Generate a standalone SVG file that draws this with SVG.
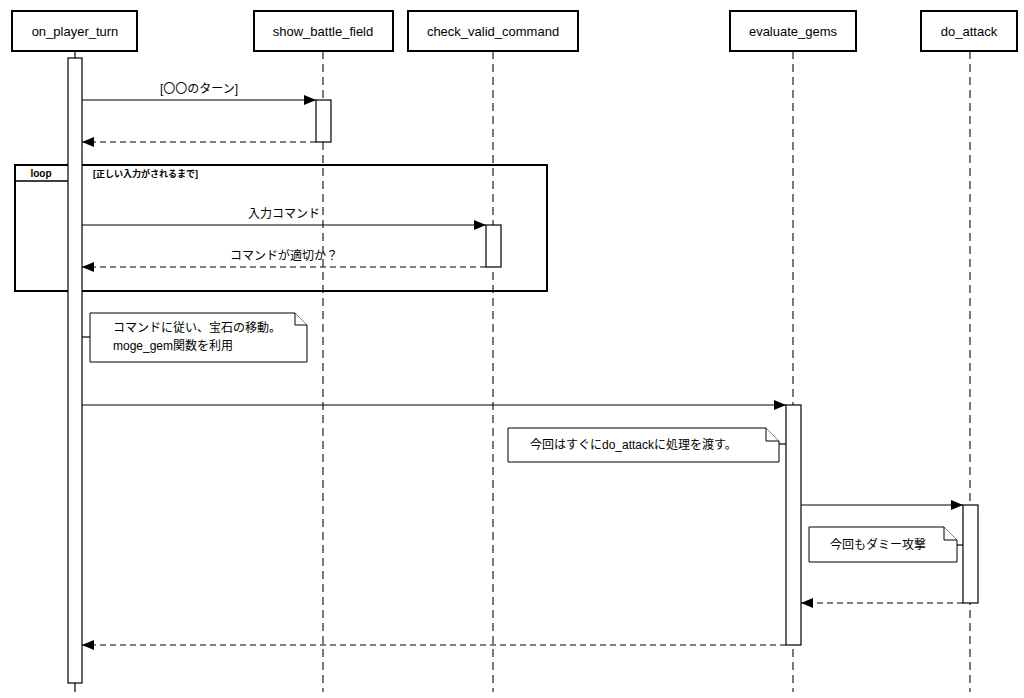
<svg xmlns="http://www.w3.org/2000/svg" width="1024" height="698" viewBox="0 0 1024 698">
<style>
text{font-family:"Liberation Sans","Noto Sans CJK JP",sans-serif;font-size:12px;fill:#000}
.ht{font-size:13px}
.lb{font-size:9px;font-weight:bold}
.hd{fill:#fff;stroke:#000;stroke-width:2}
.ll{stroke:#333;stroke-width:1.3;stroke-dasharray:8,5;fill:none}
.act{fill:#fff;stroke:#000;stroke-width:1.2}
.m{stroke:#000;stroke-width:1.2;fill:none}
.r{stroke:#000;stroke-width:1.2;fill:none;stroke-dasharray:6,4}
.note{fill:#fff;stroke:#000;stroke-width:1}
</style>
<defs><marker id="a" markerWidth="12" markerHeight="10" refX="12" refY="5" orient="auto" markerUnits="userSpaceOnUse"><path d="M0,0L12,5L0,10z" fill="#000"/></marker></defs>
<rect width="1024" height="698" fill="#fff"/>
<g id="lifelines">
<line x1="75" y1="51" x2="75" y2="692" class="m"/>
<line x1="323" y1="51" x2="323" y2="692" class="ll"/>
<line x1="493" y1="51" x2="493" y2="692" class="ll"/>
<line x1="793" y1="51" x2="793" y2="692" class="ll"/>
<line x1="970" y1="51" x2="970" y2="692" class="ll"/>
</g>
<g id="on_player_turn"><rect class="hd" x="12" y="11" width="125" height="40"/><text class="ht" x="75" y="36" text-anchor="middle">on_player_turn</text></g>
<g id="show_battle_field"><rect class="hd" x="254" y="11" width="139" height="40"/><text class="ht" x="323" y="36" text-anchor="middle">show_battle_field</text></g>
<g id="check_valid_command"><rect class="hd" x="408" y="11" width="170" height="40"/><text class="ht" x="493" y="36" text-anchor="middle">check_valid_command</text></g>
<g id="evaluate_gems"><rect class="hd" x="730" y="11" width="126" height="40"/><text class="ht" x="793" y="36" text-anchor="middle">evaluate_gems</text></g>
<g id="do_attack"><rect class="hd" x="921" y="11" width="96" height="40"/><text class="ht" x="969" y="36" text-anchor="middle">do_attack</text></g>
<g id="loop">
<rect x="15" y="165" width="532" height="126" fill="none" stroke="#000" stroke-width="2"/>
<path d="M15,181H70L77,174V165" fill="#fff" stroke="#000" stroke-width="1.5"/>
<text class="lb" x="41" y="177" text-anchor="middle" style="font-size:10px">loop</text>
<text class="lb" x="93" y="177">[正しい入力がされるまで]</text>
</g>
<g id="activations">
<rect class="act" x="68" y="58" width="14" height="625"/>
<rect class="act" x="316" y="100" width="15" height="42"/>
<rect class="act" x="486" y="225" width="15" height="42"/>
<rect class="act" x="786" y="405" width="15" height="240"/>
<rect class="act" x="963" y="505" width="15" height="98"/>
</g>
<g id="connectors">
<line x1="82" y1="100" x2="316" y2="100" class="m" marker-end="url(#a)"/>
<text x="199" y="93" text-anchor="middle">[〇〇のターン]</text>
<line x1="316" y1="142" x2="82" y2="142" class="r" marker-end="url(#a)"/>
<line x1="82" y1="225" x2="486" y2="225" class="m" marker-end="url(#a)"/>
<text x="284" y="218" text-anchor="middle">入力コマンド</text>
<line x1="486" y1="267" x2="82" y2="267" class="r" marker-end="url(#a)"/>
<text x="284" y="260" text-anchor="middle">コマンドが適切か？</text>
<line x1="82" y1="405" x2="786" y2="405" class="m" marker-end="url(#a)"/>
<line x1="801" y1="505" x2="963" y2="505" class="m" marker-end="url(#a)"/>
<line x1="963" y1="603" x2="801" y2="603" class="r" marker-end="url(#a)"/>
<line x1="786" y1="645" x2="82" y2="645" class="r" marker-end="url(#a)"/>
</g>
<g id="note1">
<path class="note" d="M90,313H295L307,325V362H90z"/><path class="note" d="M295,313V325H307" fill="none"/>
<line x1="82" y1="337" x2="90" y2="337" class="m"/>
<text x="113" y="332">コマンドに従い、宝石の移動。</text>
<text x="113" y="350">moge_gem関数を利用</text>
</g>
<g id="note2">
<path class="note" d="M508,428H766L779,441V462H508z"/><path class="note" d="M766,428V441H779" fill="none"/>
<line x1="779" y1="444" x2="786" y2="444" class="m"/>
<text x="530" y="449">今回はすぐにdo_attackに処理を渡す。</text>
</g>
<g id="note3">
<path class="note" d="M809,527H944L957,540V562H809z"/><path class="note" d="M944,527V540H957" fill="none"/>
<line x1="957" y1="545" x2="963" y2="545" class="m"/>
<text x="830" y="549">今回もダミー攻撃</text>
</g>
</svg>
